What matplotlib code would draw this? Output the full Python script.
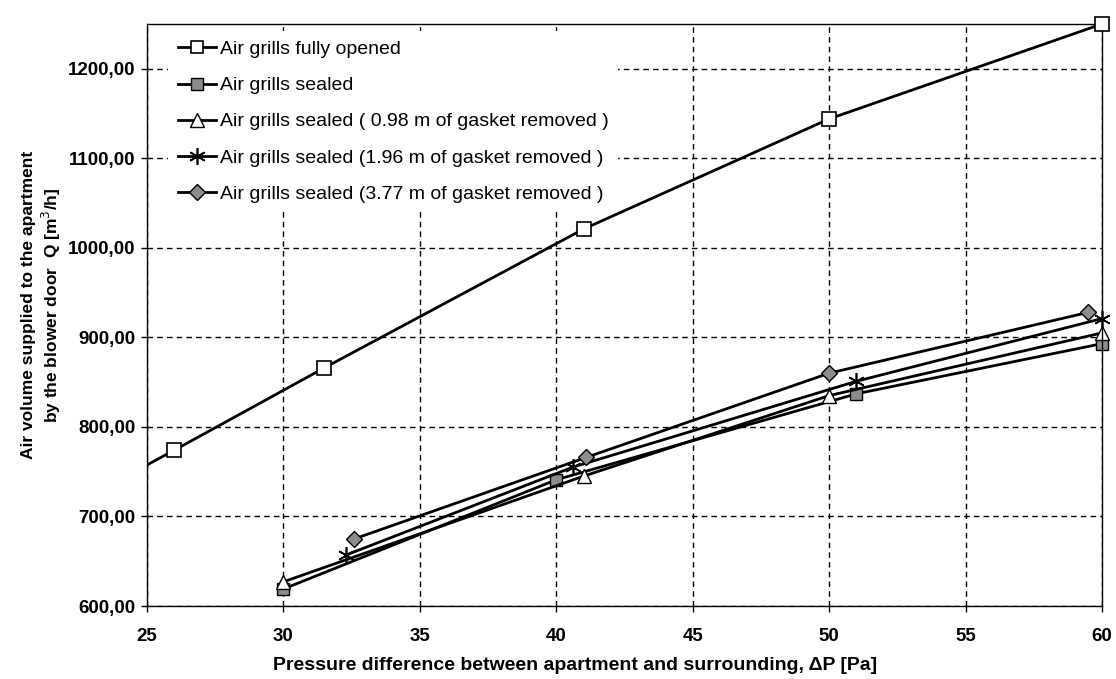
import matplotlib
matplotlib.use("Agg")
import numpy as np
import matplotlib.pyplot as plt
from matplotlib.ticker import FuncFormatter

plt.rcParams['font.family'] = ['Liberation Sans', 'DejaVu Sans']

# data (first point of the open series lies left of the axis)
x_open = [24, 26, 31.5, 41, 50, 60]
y_open = [741, 774, 866, 1021, 1144, 1250]

x_sealed = [30, 40, 51, 60]
y_sealed = [619, 741, 837, 893]

x_098 = [30, 41, 50, 60]
y_098 = [627, 745, 835, 905]

x_196 = [32.3, 40.6, 51, 60]
y_196 = [657, 755, 851, 921]

x_377 = [32.6, 41.1, 50, 59.5]
y_377 = [675, 766, 860, 928]

labels = ["Air grills fully opened",
          "Air grills sealed",
          "Air grills sealed ( 0.98 m of gasket removed )",
          "Air grills sealed (1.96 m of gasket removed )",
          "Air grills sealed (3.77 m of gasket removed )"]

fig = plt.figure(figsize=(11.16, 6.79), dpi=100)
ax = fig.add_axes([0.1317, 0.1075, 0.8558, 0.8572])

lw = 2.0
# open series: line clipped to the axes, markers only inside the x range
xo = np.array(x_open)
yo = np.array(y_open)
inside = xo >= 25
ax.plot(xo, yo, color='black', lw=lw, zorder=3)
ax.plot(xo[inside], yo[inside], ls='none', marker='s', ms=10,
        mfc='white', mec='black', mew=1.2, clip_on=False, zorder=4)
ax.plot([], [], color='black', lw=lw, marker='s', ms=8, mfc='white',
        mec='black', mew=1.2, label=labels[0])

ax.plot(x_sealed, y_sealed, color='black', lw=lw, marker='s', ms=9,
        mfc='#8c8c8c', mec='black', mew=1.0, label=labels[1], clip_on=False)
ax.plot(x_098, y_098, color='black', lw=lw, marker='^', ms=10,
        mfc='white', mec='black', mew=1.0, label=labels[2], clip_on=False)
ax.plot(x_196, y_196, color='black', lw=lw, marker=(6, 2, 0), ms=12,
        mec='black', mew=1.2, label=labels[3], clip_on=False)
ax.plot(x_377, y_377, color='black', lw=lw, marker='D', ms=8,
        mfc='#8c8c8c', mec='black', mew=1.0, label=labels[4], clip_on=False)

ax.set_xlim(25, 60)
ax.set_ylim(600, 1250)
ax.set_xticks(range(25, 61, 5))
ax.set_yticks(range(600, 1201, 100))
ax.yaxis.set_major_formatter(FuncFormatter(lambda v, p: f"{v:.2f}".replace('.', ',')))

ax.grid(True, color='black', linestyle=(0, (4, 3)), linewidth=1.0)
for s in ax.spines.values():
    s.set_linewidth(1.0)
ax.tick_params(labelsize=13.5, width=1.0, length=4, direction='out')
ax.tick_params(axis='x', pad=12)
ax.tick_params(axis='y', pad=4)
for t in ax.get_xticklabels() + ax.get_yticklabels():
    t.set_fontweight('bold')

ax.set_xlabel("Pressure difference between apartment and surrounding, \u0394P [Pa]",
              fontsize=14, fontweight='bold')
ax.xaxis.set_label_coords(0.448, -0.088)
ax.set_ylabel("Air volume supplied to the apartment\nby the blower door  Q [m$^3$/h]",
              fontsize=12.5, fontweight='bold')
ax.yaxis.set_label_coords(-0.088, 0.517)

leg = ax.legend(loc='upper left', bbox_to_anchor=(0.022, 0.988), frameon=True,
                fancybox=False, facecolor='white', edgecolor='none', framealpha=1,
                fontsize=14, handlelength=1.95, handletextpad=0.2, labelspacing=0.95,
                borderpad=0.5, borderaxespad=0)
leg.set_zorder(5)

fig.savefig("out.png", dpi=100)
